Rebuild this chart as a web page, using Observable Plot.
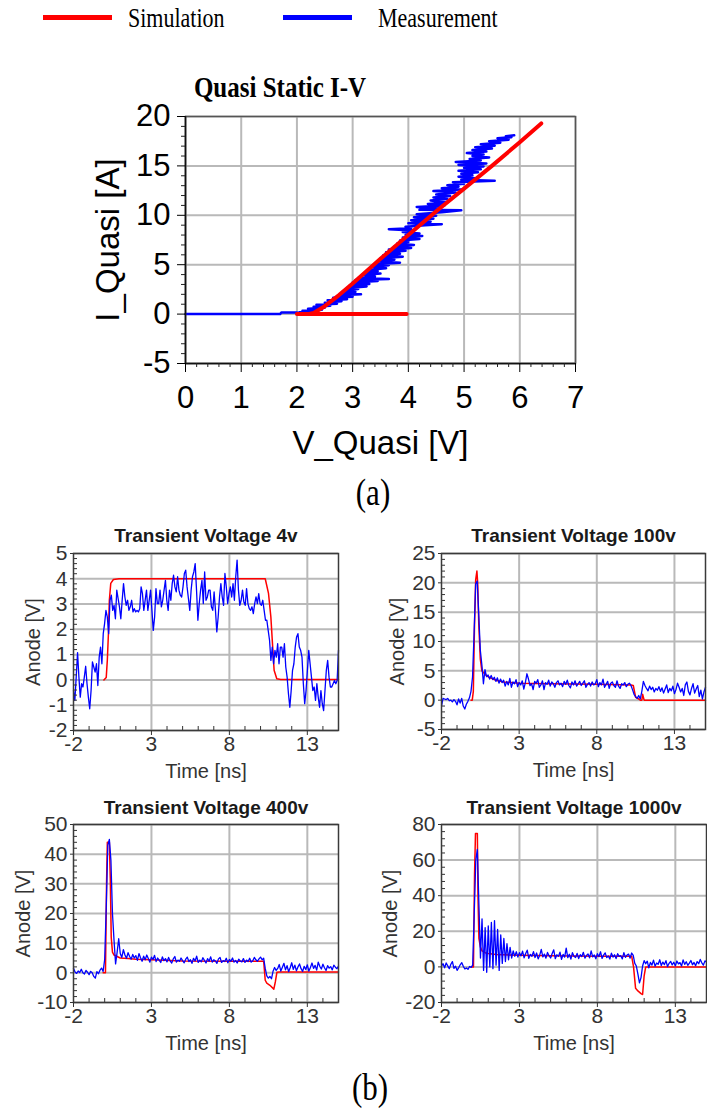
<!DOCTYPE html>
<html>
<head>
<meta charset="utf-8">
<script src="https://cdn.jsdelivr.net/npm/d3@7"></script>
<script src="https://cdn.jsdelivr.net/npm/@observablehq/plot@0.6"></script>
<style>
  html, body { margin: 0; padding: 0; background: #fff; }
  #root { position: relative; width: 707px; height: 1113px; overflow: hidden; background: #fff; }
  #root svg { position: absolute; overflow: visible; }
</style>
</head>
<body>
<div id="root"></div>
<script>
// ---------------- DATA ----------------
const legendLabels = ["Simulation", "Measurement"];
const mainTitle = "Quasi Static I-V";
const ivXLabel = "V_Quasi [V]";
const ivYLabel = "I_Quasi [A]";
const ivXTicks = [0, 1, 2, 3, 4, 5, 6, 7];
const ivYTicks = [-5, 0, 5, 10, 15, 20];

// Quasi static I-V, measurement (V, I)
const ivMeasV = [0, 1.7, 1.72, 2.0, 2.0,
  2.05, 2.35, 2.1, 2.45, 2.2, 2.5, 2.3, 2.6, 2.35, 2.72, 2.5, 2.8, 2.55, 2.9, 2.65, 3.0, 2.75, 3.15, 2.8, 3.05,
  2.85, 3.1, 2.9, 3.25, 2.95, 3.3, 3.0, 3.45, 3.05, 3.65, 3.1, 3.4, 3.2, 3.5, 3.25, 3.45, 3.3, 3.6, 3.35, 3.65,
  3.4, 3.85, 3.45, 3.75, 3.5, 3.9, 3.55, 3.85, 3.6, 3.95, 3.65, 4.05, 3.75, 4.1, 3.8, 4.0, 3.85, 4.2, 3.9, 4.25,
  3.95, 4.2, 3.9, 4.1, 3.65, 4.05, 3.95, 4.3, 4.6, 4.0, 4.4, 4.05, 4.45, 4.1, 4.5, 4.15, 4.6, 4.95, 4.2, 4.55,
  4.15, 4.65, 4.35, 4.7, 4.4, 4.7, 4.45, 4.75, 4.5, 4.85, 4.45, 4.95, 4.6, 4.9, 4.7, 5.0, 4.8, 5.55, 4.95, 5.2,
  4.9, 5.15, 4.95, 5.25, 4.9, 5.3, 5.0, 5.35, 4.9, 5.4, 4.85, 5.3, 5.1, 5.45, 5.15, 5.35, 5.05, 5.4, 5.15, 5.5,
  5.2, 5.55, 5.3, 5.65, 5.45, 5.8, 5.6, 5.85, 5.75, 5.9];
const ivMeasI = [0, 0, 0.15, 0.15, 0.05,
  0.2, 0.3, 0.35, 0.45, 0.55, 0.65, 0.75, 0.85, 0.95, 1.05, 1.15, 1.3, 1.4, 1.5, 1.65, 1.75, 1.9, 2.0, 2.1, 2.25,
  2.4, 2.55, 2.65, 2.8, 2.9, 3.05, 3.2, 3.35, 3.45, 3.55, 3.65, 3.8, 3.95, 4.1, 4.2, 4.35, 4.5, 4.65, 4.8, 4.95,
  5.05, 5.2, 5.35, 5.5, 5.65, 5.8, 5.95, 6.1, 6.25, 6.4, 6.55, 6.7, 6.85, 7.0, 7.15, 7.3, 7.45, 7.6, 7.75, 7.9,
  8.0, 8.15, 8.3, 8.45, 8.6, 8.7, 8.85, 9.0, 9.1, 9.2, 9.35, 9.5, 9.65, 9.8, 9.95, 10.1, 10.3, 10.5, 10.55, 10.7,
  10.85, 11.0, 11.15, 11.3, 11.5, 11.65, 11.8, 11.95, 12.1, 12.3, 12.45, 12.6, 12.75, 12.9, 13.05, 13.2, 13.35, 13.5, 13.6, 13.75,
  13.9, 14.05, 14.2, 14.35, 14.5, 14.65, 14.8, 14.95, 15.1, 15.25, 15.4, 15.55, 15.7, 15.85, 16.0, 16.15, 16.3, 16.45, 16.6, 16.75,
  16.9, 17.05, 17.2, 17.35, 17.5, 17.65, 17.8, 17.9, 18.0, 18.1];
// Quasi static I-V, simulation (V, I)
const ivSimV = [3.97, 2.0, 2.2, 2.3, 2.5, 2.75, 3.0, 3.5, 4.0, 4.5, 5.0, 5.5, 6.0, 6.385];
const ivSimI = [0, 0, 0, 0.12, 0.8, 1.9, 3.1, 5.6, 8.0, 10.4, 12.7, 15.0, 17.4, 19.3];

// Transient panels
const transientTitles = ["Transient Voltage 4v", "Transient Voltage 100v", "Transient Voltage 400v", "Transient Voltage 1000v"];
const timeLabel = "Time [ns]";
const anodeLabel = "Anode [V]";
const timeTicks = [-2, 3, 8, 13];
const timeStart = -2, timeEnd = 15;   // measurement samples span this window uniformly
const yTicks4v = [-2, -1, 0, 1, 2, 3, 4, 5];
const yTicks100v = [-5, 0, 5, 10, 15, 20, 25];
const yTicks400v = [-10, 0, 10, 20, 30, 40, 50];
const yTicks1000v = [-20, 0, 20, 40, 60, 80];

const meas4v = [
  -0.42, -0.81, 0.11, 1.08, 0.11, -0.68, -0.15, -0.28, 0.11, 0.54,
  -0.15, -0.68, -1.14, -0.42, 0.71, 0.51, 0.31, 0.64, -0.22, 0.90,
  1.30, 0.64, 1.83, 2.23, 2.75, 2.49, 1.83, 3.15, 3.35, 2.75,
  2.95, 2.42, 3.55, 3.22, 2.89, 2.42, 3.15, 3.81, 3.28, 2.95,
  3.15, 2.75, 2.89, 3.15, 2.69, 2.82, 2.69, 2.75, 2.69, 2.82,
  3.68, 3.41, 2.75, 3.15, 3.55, 2.75, 3.15, 3.55, 2.75, 1.96,
  2.49, 3.61, 3.02, 3.02, 3.55, 2.89, 3.15, 3.55, 3.94, 3.15,
  2.75, 3.55, 3.15, 3.81, 4.14, 3.68, 3.48, 4.08, 3.55, 3.35,
  3.28, 3.68, 4.21, 4.34, 3.68, 3.22, 2.75, 3.55, 4.08, 4.27,
  4.60, 3.55, 2.36, 3.02, 3.55, 3.94, 3.02, 4.27, 3.15, 3.28,
  3.55, 3.55, 2.89, 2.75, 3.48, 2.75, 1.90, 2.49, 3.28, 3.81,
  3.28, 2.95, 4.21, 3.68, 3.02, 3.41, 3.68, 3.28, 3.81, 3.15,
  4.08, 4.74, 3.55, 2.95, 3.15, 3.55, 3.08, 2.95, 3.61, 3.02,
  2.82, 2.75, 2.89, 2.62, 3.02, 3.28, 3.02, 3.41, 3.02, 2.95,
  3.15, 2.75, 2.36, 2.36, 1.96, 1.57, 0.77, 1.30, 0.64, 1.17,
  0.90, 1.43, 0.64, 1.30, 1.30, 0.90, 1.43, 0.51, 0.11, -0.55,
  -1.08, -0.42, 0.38, 0.64, 1.30, 1.70, 1.83, 1.30, 1.17, 0.90,
  -0.15, -0.94, -0.42, 0.38, 1.17, 0.64, 0.11, -0.42, -0.28, -0.81,
  -0.15, -0.68, -1.08, -0.42, -0.94, -1.21, -0.42, 0.38, 0.77, 0.11,
  -0.28, -0.28, -0.15, -0.02, -0.15, -0.02, 1.17];
const sim4vT = [-0.05, 0.1, 0.17, 0.24, 0.30, 0.39, 0.56, 0.92, 10.3, 10.51, 10.66, 10.79, 10.87, 11.04, 11.3, 15];
const sim4vV = [0, 0.1, 0.78, 1.83, 3.15, 3.82, 3.97, 4.0, 4.0, 3.42, 2.5, 1.18, 0.38, 0.05, 0.02, 0.02];

const meas100v = [
  -1.0, 0.3, 0.2, 0.1, 0.3, -0.1, 0.0, -0.3, 0.1, -0.2, -0.8, 0.2, -0.5, 0.3, -1.0, -1.5, -0.7, -0.2, 0.4, 1.5,
  4.0, 11.5, 19.8, 20.3, 14.5, 8.5, 6.0, 2.8, 5.2, 4.0, 4.3,
  3.6, 4.2, 3.5, 3.9, 3.2, 3.8, 2.9, 3.6, 3.0, 3.4,
  2.4, 3.2, 2.6, 3.7, 2.2, 3.1, 2.8, 3.5, 2.3, 3.0,
  2.6, 3.3, 1.9, 3.0, 4.5, 3.6, 2.5, 2.8, 1.8, 3.2,
  2.9, 3.5, 2.2, 2.6, 3.3, 1.8, 3.0, 2.7, 3.4, 2.4,
  3.1, 2.8, 2.2, 3.0, 3.3, 2.6, 2.9, 2.3, 3.2, 2.7,
  3.4, 2.5, 2.1, 3.1, 2.6, 3.3, 2.4, 2.8, 3.2, 2.5,
  2.9, 3.3, 2.2, 2.7, 3.0, 2.4, 3.1, 2.6, 2.8, 3.5,
  2.3, 3.0, 2.6, 3.6, 2.2, 2.7, 3.2, 2.0, 2.9, 3.1,
  2.5, 2.2, 3.3, 2.4, 2.0, 2.8, 2.6, 3.0, 2.3, 2.7,
  2.9, 2.5, 1.8, 1.0, 0.6, 0.3, 0.8, 0.2, 1.5, 3.2,
  2.5, 2.0, 1.6, 2.4, 1.8, 2.2, 1.4, 2.0, 1.7, 2.3,
  1.5, 2.1, 1.2, 1.9, 2.6, 1.3, 2.0, 1.6, 2.4, 1.1,
  1.8, 2.9, 2.2, 1.4, 2.0, 0.8, 2.6, 3.1, 1.5, 0.9,
  2.0, 2.8, 1.2, 1.9, 2.5, 0.6, 1.7, 0.2, 1.4, 2.2];
const sim100vT = [-0.1, -0.02, 0.05, 0.12, 0.2, 0.28, 0.33, 0.4, 0.5, 0.6, 0.8, 1.0, 1.5, 2.0, 3.0, 5.0, 8.0, 10.2, 10.35, 10.5, 10.7, 10.8, 10.9, 10.95, 11.05, 15];
const sim100vV = [0, 0, 1.5, 12, 20.5, 22, 20, 13, 7, 5, 4.4, 4.0, 3.4, 3.1, 2.9, 2.8, 2.7, 2.6, 2.5, 0.5, 0.2, 0.0, 0.0, 1.0, 0.0, 0.0];

const meas400v = [
  1.5, 0.3, -0.2, 0.6, 0.1, 1.2, 0.0, -0.4, 0.8, 0.2, -0.6, 0.5, 0.0, -1.2, -1.8, 0.4, -0.3, 0.9, 1.6, 0.5,
  4.5, 22, 43, 45, 38, 20, 11, 3.0, 7.0, 11.5, 6.5,
  5.2, 7.8, 6.0, 4.9, 6.8, 5.5, 4.6, 6.2, 5.0, 5.8,
  4.2, 6.5, 5.1, 3.9, 5.6, 4.4, 6.0, 4.8, 3.6, 5.3,
  4.5, 5.9, 3.8, 5.0, 4.2, 3.5, 5.4, 4.1, 4.8, 3.7,
  5.2, 4.0, 3.3, 4.7, 5.5, 3.6, 4.3, 3.9, 5.0, 4.1,
  3.4, 4.6, 5.3, 3.8, 4.4, 3.2, 4.9, 4.0, 5.6, 3.5,
  4.3, 3.7, 5.1, 4.2, 3.3, 4.8, 3.9, 5.4, 3.6, 4.4,
  4.0, 3.2, 4.7, 5.2, 3.5, 4.1, 3.8, 4.9, 3.4, 4.5,
  3.9, 5.0, 3.6, 4.2, 3.3, 4.6, 4.0, 3.7, 4.8, 3.5,
  4.3, 3.8, 4.9, 3.6, 4.1, 5.2, 4.4, 3.9, 4.7, 5.3,
  4.4, 4.9, 1.5, -1.0, -1.8, -1.2, -2.0, 0.5, 1.8, 0.8,
  1.5, 2.8, 0.6, 1.9, 3.2, 1.0, 2.4, 0.4, 1.7, 3.4,
  1.2, 2.6, 0.7, 2.0, 3.0, 1.4, 0.5, 2.2, 1.1, 2.7,
  0.6, 1.8, 3.3, 1.5, 2.5, 0.9, 3.6, 2.2, 1.3, 2.9,
  1.7, 0.8, 2.4, 1.6, 2.1, 1.0, 2.6, 1.9, 1.4, 2.3];
const sim400vT = [-0.1, 0.05, 0.12, 0.17, 0.3, 0.36, 0.42, 0.5, 0.6, 0.8, 1.0, 1.5, 2.0, 3.0, 5.0, 8.0, 10.2, 10.3, 10.4, 10.6, 10.85, 10.95, 11.05, 11.2, 15];
const sim400vV = [0, 0, 30, 44, 44, 32, 12, 7, 6, 5.5, 5.0, 4.8, 4.6, 4.4, 4.0, 3.9, 3.9, -2.5, -3.5, -4.2, -5.5, -3.0, 0.2, 0.3, 0.3];

const meas1000v = [
  0.5, 1.8, -0.5, 2.2, 0.6, -1.0, 1.5, 3.0, -0.8, 0.4, -1.9, -0.5, 1.2, 2.4, 0.3, -1.2, -0.6, -1.4, 0.2, -0.3,
  1.0, 30, 60, 66, 35, 5, 27, -2, 22, -3, 23,
  0, 25, -1, 26, 1, 21, -2, 18, 2, 16,
  3, 13, 4, 11, 5, 9, 6, 8.5, 5.5, 8,
  6.2, 8.8, 5.1, 7.5, 9.4, 4.8, 7.0, 6.0, 8.6, 5.3,
  7.8, 4.5, 6.6, 9.8, 5.6, 7.2, 4.9, 8.1, 6.3, 5.0,
  7.5, 9.6, 4.6, 6.8, 5.9, 8.3, 4.3, 7.0, 5.5, 10.5,
  5.2, 7.1, 4.4, 8.0, 6.0, 5.3, 7.6, 4.7, 6.9, 5.8,
  8.2, 4.9, 6.4, 7.3, 5.1, 9.0, 5.6, 6.7, 4.6, 7.4,
  5.8, 8.5, 4.8, 6.6, 7.9, 5.2, 6.1, 4.4, 7.7, 5.5,
  6.8, 4.7, 7.4, 5.9, 6.3, 4.5, 8.0, 5.4, 6.6, 7.2,
  4.9, 7.8, 6.5, 2.0, 0.5, -4.0, -9.0, -6.0, 0.5, 3.5,
  1.8, 3.2, -0.5, 2.5, 1.0, 3.8, 0.4, 2.2, 1.5, 4.0,
  0.8, 2.7, 1.3, 3.5, 0.2, 2.0, 3.1, 1.1, 2.6, 0.6,
  3.3, 1.7, 2.4, 0.5, 3.9, 1.4, 2.9, 0.9, 2.1, 3.6,
  1.2, 2.5, 0.7, 3.0, 1.8, 4.2, 2.3, 1.0, 3.4, 2.6];
const sim1000vT = [-0.1, 0.05, 0.12, 0.18, 0.3, 0.34, 0.4, 0.5, 0.6, 0.8, 1.0, 1.5, 2.0, 3.0, 5.0, 8.0, 10.2, 10.32, 10.45, 10.6, 10.8, 10.9, 11.0, 11.1, 15];
const sim1000vV = [0, 0, 52, 75, 75, 40, 16, 11, 9, 8, 7.5, 7.0, 6.8, 6.5, 6.2, 6.0, 6.0, 0, -12, -13.5, -15, -15.5, -5, 0, 0];

const panelLabels = ["(a)", "(b)"];

// ---------------- STYLE ----------------
const SIM_COLOR = "#ff0000";
const MEAS_COLOR = "#0000ff";
const GRID_COLOR = "#b9b9b9";
const SANS = '"Liberation Sans", Arial, Helvetica, sans-serif';
const SERIF = '"Liberation Serif", "Times New Roman", Times, serif';
const root = document.getElementById("root");

function place(el, left, top) {
  el.style.left = left + "px";
  el.style.top = top + "px";
  root.appendChild(el);
}

// HTML serif text placed by baseline; slightly tall glyphs like the reference
function serifText(text, {x, baseline, size, weight = "normal", anchor = "start"}) {
  const d = document.createElement("div");
  d.textContent = text;
  const base = 0.8375 * size;
  d.style.cssText = `position:absolute;white-space:nowrap;font-family:${SERIF};font-size:${size}px;` +
    `font-weight:${weight};line-height:${size}px;color:#000;` +
    `transform-origin:${anchor === "middle" ? "50%" : "0"} ${base}px;` +
    `transform:${anchor === "middle" ? "translateX(-50%) " : ""}scaleY(1.2);`;
  d.style.left = x + "px";
  d.style.top = (baseline - base) + "px";
  root.appendChild(d);
}

function swatch(color, x, y, w) {
  const d = document.createElement("div");
  d.style.cssText = `position:absolute;left:${x}px;top:${y}px;width:${w}px;height:5px;background:${color};`;
  root.appendChild(d);
}

// ---------------- LEGEND + TITLE ----------------
swatch(SIM_COLOR, 43, 15, 69);
serifText(legendLabels[0], {x: 128, baseline: 27, size: 22});
swatch(MEAS_COLOR, 283, 15, 69);
serifText(legendLabels[1], {x: 378, baseline: 27, size: 22});
serifText(mainTitle, {x: 280, baseline: 97, size: 25, weight: "bold", anchor: "middle"});

// ---------------- MAIN I-V CHART ----------------
const ivMeas = ivMeasV.map((v, i) => ({v, i: ivMeasI[i]}));
const ivSim = ivSimV.map((v, i) => ({v, i: ivSimI[i]}));
const ivXMinor = d3.range(0, 36).map(k => k / 5).filter(v => !ivXTicks.includes(v));
const ivYMinor = d3.range(-5, 21).filter(v => !ivYTicks.includes(v));

const mainSvg = Plot.plot({
  width: 707, height: 470,
  marginLeft: 185, marginRight: 132, marginTop: 116, marginBottom: 107,
  style: {fontFamily: SANS, background: "transparent", overflow: "visible", color: "#000"},
  x: {domain: [0, 7]},
  y: {domain: [-5, 20]},
  marks: [
    Plot.gridX(ivXTicks, {stroke: GRID_COLOR, strokeOpacity: 1, strokeWidth: 2}),
    Plot.gridY(ivYTicks, {stroke: GRID_COLOR, strokeOpacity: 1, strokeWidth: 2}),
    Plot.line(ivMeas, {x: "v", y: "i", stroke: MEAS_COLOR, strokeWidth: 2.5}),
    Plot.line(ivSim, {x: "v", y: "i", stroke: SIM_COLOR, strokeWidth: 4, strokeLinejoin: "round"}),
    Plot.frame({stroke: "#555", strokeWidth: 1.5}),
    Plot.ruleX([0], {stroke: "#111", strokeWidth: 1.5}),
    Plot.ruleY([-5], {stroke: "#111", strokeWidth: 1.5}),
    Plot.axisX(ivXMinor, {tickSize: 4, tickFormat: () => "", label: null, stroke: "#222"}),
    Plot.axisY(ivYMinor, {tickSize: 4, tickFormat: () => "", label: null, stroke: "#222"}),
    Plot.axisX(ivXTicks, {tickSize: 9, tickPadding: 13, fontSize: 31, tickFormat: d => String(d), label: null, color: "#000"}),
    Plot.axisY(ivYTicks, {tickSize: 8, tickPadding: 7, fontSize: 31, tickFormat: d => String(d), label: null, color: "#000"}),
    Plot.text([ivXLabel], {frameAnchor: "bottom", textAnchor: "middle", lineAnchor: "bottom", dy: 90, fontSize: 33, fill: "#000"}),
    Plot.text([ivYLabel], {frameAnchor: "left", textAnchor: "middle", lineAnchor: "middle", rotate: -90, dx: -77, fontSize: 33, fill: "#000"})
  ]
});
place(mainSvg, 0, 0);

serifText(panelLabels[0], {x: 373, baseline: 505, size: 31, anchor: "middle"});

// ---------------- TRANSIENT PANELS ----------------
const panels = [
  {title: transientTitles[0], meas: meas4v, simT: sim4vT, simV: sim4vV, yDomain: [-2, 5], yTicks: yTicks4v, minorStep: 0.2,
   left: 0, top: 510, w: 353, h: 275, mL: 73, mR: 15, mT: 43, mB: 55, titleDy: -12, yLabDx: -40},
  {title: transientTitles[1], meas: meas100v, simT: sim100vT, simV: sim100vV, yDomain: [-5, 25], yTicks: yTicks100v, minorStep: 1,
   left: 353, top: 510, w: 354, h: 275, mL: 88, mR: 2, mT: 43, mB: 56, titleDy: -12, yLabDx: -44},
  {title: transientTitles[2], meas: meas400v, simT: sim400vT, simV: sim400vV, yDomain: [-10, 50], yTicks: yTicks400v, minorStep: 2,
   left: 0, top: 785, w: 353, h: 275, mL: 73, mR: 15, mT: 39, mB: 58, titleDy: -11, yLabDx: -50},
  {title: transientTitles[3], meas: meas1000v, simT: sim1000vT, simV: sim1000vV, yDomain: [-20, 80], yTicks: yTicks1000v, minorStep: 4,
   left: 353, top: 785, w: 354, h: 275, mL: 88, mR: 1, mT: 39, mB: 58, titleDy: -11, yLabDx: -51}
];

for (const p of panels) {
  const n = p.meas.length;
  const measData = p.meas.map((v, i) => ({t: timeStart + i * (timeEnd - timeStart) / (n - 1), v}));
  const simData = p.simT.map((t, i) => ({t, v: p.simV[i]}));
  const plotW = p.w - p.mL - p.mR, plotH = p.h - p.mT - p.mB;
  const [y0, y1] = p.yDomain;
  const kx = (timeEnd - timeStart) / plotW, ky = (y1 - y0) / plotH;
  const xMinor = d3.range(-1, 15).filter(v => !timeTicks.includes(v));
  const nMinor = Math.round((y1 - y0) / p.minorStep);
  const yMinor = d3.range(0, nMinor + 1).map(k => +(y0 + k * p.minorStep).toFixed(3)).filter(v => !p.yTicks.includes(v));

  const svg = Plot.plot({
    width: p.w, height: p.h,
    marginLeft: p.mL, marginRight: p.mR, marginTop: p.mT, marginBottom: p.mB,
    style: {fontFamily: SANS, background: "transparent", overflow: "visible", color: "#333"},
    x: {domain: [timeStart, timeEnd]},
    y: {domain: p.yDomain},
    marks: [
      Plot.gridX(timeTicks.slice(1), {stroke: GRID_COLOR, strokeOpacity: 1, strokeWidth: 2}),
      Plot.gridY(p.yTicks, {stroke: GRID_COLOR, strokeOpacity: 1, strokeWidth: 2}),
      Plot.line(simData, {x: "t", y: "v", stroke: SIM_COLOR, strokeWidth: 1.5}),
      Plot.line(measData, {x: "t", y: "v", stroke: MEAS_COLOR, strokeWidth: 1.3}),
      Plot.ruleX(xMinor, {y1: y0, y2: y0 + 4 * ky, stroke: "#333", strokeWidth: 1}),
      Plot.ruleY(yMinor, {x1: timeStart, x2: timeStart + 4 * kx, stroke: "#333", strokeWidth: 1}),
      Plot.frame({stroke: "#3a3a3a", strokeWidth: 1.5}),
      Plot.axisX(timeTicks, {tickSize: 5, tickPadding: 1, fontSize: 21, tickFormat: d => String(d), label: null, color: "#333"}),
      Plot.axisY(p.yTicks, {tickSize: 3, tickPadding: 3, fontSize: 21, tickFormat: d => String(d), label: null, color: "#333"}),
      Plot.text([p.title], {frameAnchor: "top", textAnchor: "middle", lineAnchor: "bottom", dy: p.titleDy, fontSize: 19, fontWeight: "bold", fill: "#1a1a1a"}),
      Plot.text([timeLabel], {frameAnchor: "bottom", textAnchor: "middle", lineAnchor: "bottom", dy: 47, fontSize: 20, fill: "#333"}),
      Plot.text([anodeLabel], {frameAnchor: "left", textAnchor: "middle", lineAnchor: "middle", rotate: -90, dx: p.yLabDx, fontSize: 20, fill: "#333"})
    ]
  });
  place(svg, p.left, p.top);
}

serifText(panelLabels[1], {x: 370, baseline: 1100, size: 31, anchor: "middle"});
</script>
</body>
</html>
